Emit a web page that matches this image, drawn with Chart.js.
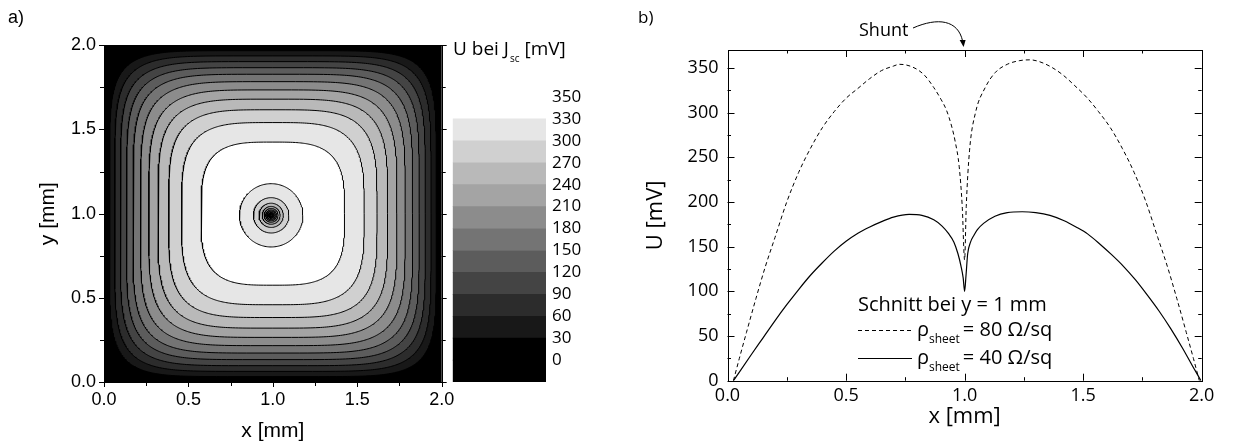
<!DOCTYPE html>
<html>
<head>
<meta charset="utf-8">
<script src="https://cdn.jsdelivr.net/npm/chart.js@4.4.1/dist/chart.umd.min.js"></script>
<style>
  html, body { margin: 0; padding: 0; background: #fff; }
  #page { position: relative; width: 1233px; height: 446px; overflow: hidden; }
  #page canvas { position: absolute; top: 0; }
  #mapChart { left: 0; }
  #barChart { left: 440px; }
  #cutChart { left: 620px; }
</style>
</head>
<body>
<div id="page">
  <canvas id="mapChart" width="470" height="446"></canvas>
  <canvas id="barChart" width="180" height="446"></canvas>
  <canvas id="cutChart" width="613" height="446"></canvas>
</div>
<script>
// a) voltage map at short circuit, one contour every 30 mV
const contourLevels = [30, 60, 90, 120, 150, 180, 210, 240, 270, 300, 330];
// half width of each contour on the line y = 1 mm, and how square it is
const contourHalfWidth = [0.968, 0.937, 0.903, 0.867, 0.828, 0.784, 0.735, 0.680, 0.617, 0.541, 0.425];
const contourSquareness = [6.5, 6.0, 5.6, 5.3, 5.0, 4.7, 4.4, 4.2, 4.0, 3.7, 3.4];
const cellCenter = [1.0, 1.0];

// dip of the voltage around the shunt
const shuntLevels = [330, 300, 270, 240, 210, 180, 150, 120, 90, 60];
const shuntRadius = [0.188, 0.105, 0.072, 0.053, 0.041, 0.032, 0.025, 0.019, 0.014, 0.009];
const shuntCenter = [0.99, 0.99];

// colour scale
const scaleLevels = [0, 30, 60, 90, 120, 150, 180, 210, 240, 270, 300, 330, 350];

// b) cut through the map at y = 1 mm
const cutX80 = [0.025, 0.05, 0.08, 0.12, 0.16, 0.2, 0.25, 0.3, 0.35, 0.4, 0.45, 0.5, 0.55, 0.6, 0.65, 0.7, 0.725,
  0.78, 0.83, 0.87, 0.9, 0.923, 0.945, 0.96, 0.977, 0.99, 1.0, 1.007, 1.021, 1.046, 1.087, 1.13, 1.18, 1.23,
  1.276, 1.315, 1.365, 1.415, 1.465, 1.515, 1.565, 1.615, 1.665, 1.715, 1.765, 1.815, 1.855, 1.895, 1.935,
  1.965, 1.99];
const cutU80 = [0, 25, 54, 92, 128, 160, 200, 233, 260, 283, 301, 316, 327, 338, 347, 352, 354,
  351, 342, 328, 315, 303, 285, 268, 240, 195, 135, 195, 258, 300, 328, 345, 354, 358,
  359, 357, 351, 342, 330, 317, 301, 283, 260, 233, 200, 160, 128, 92, 54,
  25, 0];
const cutX40 = [0.025, 0.1, 0.15, 0.2, 0.25, 0.3, 0.35, 0.4, 0.45, 0.5, 0.55, 0.6, 0.65, 0.7, 0.766,
  0.82, 0.87, 0.905, 0.931, 0.955, 0.972, 0.985, 0.994, 1.0, 1.006, 1.013, 1.025, 1.04, 1.054, 1.08,
  1.128, 1.18, 1.243, 1.3, 1.36, 1.42, 1.47, 1.52, 1.57, 1.62, 1.67, 1.72, 1.77, 1.82, 1.87, 1.92,
  1.96, 1.997];
const cutU40 = [0, 29, 48, 67, 85, 102, 118, 132, 145, 156, 165, 172, 178, 183, 186,
  185, 180, 173, 165, 155, 142, 128, 115, 100, 118, 142, 155, 163, 169, 176,
  184, 188, 189, 188, 185, 179, 172, 164, 153, 141, 128, 113, 96, 78, 58, 36,
  17, 0];

const shuntX = 1.0;

// grey for the band between scaleLevels[i] and scaleLevels[i + 1]
const bandGrey = ['#000000', '#181818', '#2c2c2c', '#444444', '#5c5c5c', '#747474',
  '#8c8c8c', '#a4a4a4', '#b9b9b9', '#d0d0d0', '#e6e6e6', '#ffffff'];

const ARIAL = '"Liberation Sans", Arial, sans-serif';
const SANS = '"Open Sans", "Noto Sans", sans-serif';

function bandColor(level) {
  const i = scaleLevels.indexOf(level);
  return bandGrey[Math.max(0, Math.min(bandGrey.length - 1, i))];
}

// closed superellipse around (cx, cy)
function loopPoints(cx, cy, half, power, count) {
  const pts = [];
  for (let i = 0; i <= count; i++) {
    const t = (i / count) * 2 * Math.PI;
    const c = Math.cos(t);
    const s = Math.sin(t);
    pts.push({
      x: cx + half * Math.sign(c) * Math.pow(Math.abs(c), 2 / power),
      y: cy + half * Math.sign(s) * Math.pow(Math.abs(s), 2 / power)
    });
  }
  return pts;
}

function isMajor(value, step) {
  const r = value / step;
  return Math.abs(r - Math.round(r)) < 1e-6;
}

// frame plus tick marks on the chosen sides
function framePlugin(opts) {
  return {
    id: 'frame',
    afterDatasetsDraw(chart) {
      const {ctx, chartArea: a, scales} = chart;
      const dir = opts.inward ? 1 : -1;
      ctx.save();
      ctx.strokeStyle = '#000';
      ctx.lineWidth = 1;
      ctx.strokeRect(Math.round(a.left) + 0.5, Math.round(a.top) + 0.5,
        Math.round(a.right - a.left), Math.round(a.bottom - a.top));
      ctx.beginPath();
      scales.x.ticks.forEach(t => {
        const len = isMajor(t.value, opts.xMajor) ? opts.major : opts.minor;
        const px = Math.round(scales.x.getPixelForValue(t.value)) + 0.5;
        if (opts.sides.includes('bottom')) {
          ctx.moveTo(px, a.bottom);
          ctx.lineTo(px, a.bottom - dir * len);
        }
        if (opts.sides.includes('top')) {
          ctx.moveTo(px, a.top);
          ctx.lineTo(px, a.top + dir * len);
        }
      });
      scales.y.ticks.forEach(t => {
        const len = isMajor(t.value, opts.yMajor) ? opts.major : opts.minor;
        const py = Math.round(scales.y.getPixelForValue(t.value)) + 0.5;
        if (opts.sides.includes('left')) {
          ctx.moveTo(a.left, py);
          ctx.lineTo(a.left + dir * len, py);
        }
        if (opts.sides.includes('right')) {
          ctx.moveTo(a.right, py);
          ctx.lineTo(a.right - dir * len, py);
        }
      });
      ctx.stroke();
      ctx.restore();
    }
  };
}

function fixSize(size) {
  return scale => {
    if (scale.isHorizontal()) {
      scale.height = size;
    } else {
      scale.width = size;
    }
    scale.paddingLeft = 0;
    scale.paddingRight = 0;
    scale.paddingTop = 0;
    scale.paddingBottom = 0;
  };
}

function oneDecimal(step) {
  return value => (isMajor(value, step) ? value.toFixed(1) : '');
}

// ---------- a) map ----------
const mapDatasets = [];
contourLevels.forEach((level, k) => {
  mapDatasets.push({
    data: loopPoints(cellCenter[0], cellCenter[1], contourHalfWidth[k], contourSquareness[k], 400),
    backgroundColor: bandColor(level),
    borderColor: '#000',
    borderWidth: 1,
    fill: 'shape',
    order: 100 - k
  });
});
shuntLevels.forEach((level, k) => {
  mapDatasets.push({
    data: loopPoints(shuntCenter[0], shuntCenter[1], shuntRadius[k], k > 6 ? 1.4 : 2, 160),
    backgroundColor: bandColor(level - 30),
    borderColor: '#000',
    borderWidth: 1,
    fill: 'shape',
    order: 50 - k
  });
});

const mapBackground = {
  id: 'mapBackground',
  beforeDatasetsDraw(chart) {
    const {ctx, chartArea: a} = chart;
    ctx.save();
    ctx.fillStyle = bandGrey[0];
    ctx.fillRect(a.left, a.top, a.right - a.left, a.bottom - a.top);
    ctx.restore();
  },
  afterDraw(chart) {
    const ctx = chart.ctx;
    ctx.save();
    ctx.fillStyle = '#000';
    ctx.font = '18px ' + ARIAL;
    ctx.textBaseline = 'middle';
    ctx.fillText('a)', 8, 18);
    ctx.restore();
  }
};

new Chart(document.getElementById('mapChart'), {
  type: 'scatter',
  data: {datasets: mapDatasets},
  options: {
    responsive: false,
    animation: false,
    events: [],
    layout: {padding: {left: 0, top: 45.3, right: 28.3, bottom: 0}},
    plugins: {legend: {display: false}, tooltip: {enabled: false}},
    elements: {point: {radius: 0}, line: {tension: 0}},
    datasets: {scatter: {showLine: true}},
    scales: {
      x: {
        type: 'linear', min: 0, max: 2,
        afterFit: fixSize(64),
        grid: {display: false, drawTicks: false},
        border: {display: false},
        ticks: {stepSize: 0.25, autoSkip: false, maxRotation: 0, padding: 7, color: '#000',
          font: {family: ARIAL, size: 18}, callback: oneDecimal(0.5)},
        title: {display: true, text: 'x [mm]', color: '#000', font: {family: ARIAL, size: 21},
          padding: {top: 0, bottom: 2}}
      },
      y: {
        type: 'linear', min: 0, max: 2,
        afterFit: fixSize(104),
        grid: {display: false, drawTicks: false},
        border: {display: false},
        ticks: {stepSize: 0.25, autoSkip: false, padding: 8, color: '#000',
          font: {family: ARIAL, size: 18}, callback: oneDecimal(0.5)},
        title: {display: true, text: 'y [mm]', color: '#000', font: {family: ARIAL, size: 21},
          padding: {top: 36, bottom: 0}}
      }
    }
  },
  plugins: [mapBackground, framePlugin({inward: false, sides: ['left', 'bottom', 'right'],
    major: 5, minor: 4, xMajor: 0.5, yMajor: 0.5})]
});

// ---------- colour scale ----------
// one stacked block per band, the lowest block sits below 0 mV
const barBands = [bandGrey[0]].concat(bandGrey);
const barTitle = {
  id: 'barTitle',
  afterDraw(chart) {
    const ctx = chart.ctx;
    ctx.save();
    ctx.fillStyle = '#000';
    ctx.textBaseline = 'middle';
    ctx.font = '19px ' + SANS;
    let x = 13;
    ctx.fillText('U bei J', x, 50);
    x += ctx.measureText('U bei J').width + 1;
    ctx.font = '10px ' + SANS;
    ctx.fillText('sc', x, 59);
    x += ctx.measureText('sc').width + 5;
    ctx.font = '19px ' + SANS;
    ctx.fillText('[mV]', x, 50);
    ctx.restore();
  }
};

new Chart(document.getElementById('barChart'), {
  type: 'bar',
  data: {
    labels: [''],
    datasets: barBands.map(c => ({
      data: [1],
      backgroundColor: c,
      borderWidth: 0,
      barPercentage: 1,
      categoryPercentage: 1
    }))
  },
  options: {
    responsive: false,
    animation: false,
    events: [],
    layout: {padding: {left: 12.7, top: 97, right: 0, bottom: 64}},
    plugins: {legend: {display: false}, tooltip: {enabled: false}},
    scales: {
      x: {display: false, stacked: true},
      y: {
        stacked: true,
        position: 'right',
        min: 0, max: barBands.length,
        afterFit: fixSize(180 - 12.7 - 93.3),
        grid: {display: false, drawTicks: false},
        border: {display: false},
        ticks: {stepSize: 1, autoSkip: false, padding: 6, color: '#000',
          font: {family: SANS, size: 17},
          callback: v => (v >= 1 && v <= scaleLevels.length ? String(scaleLevels[v - 1]) : '')}
      }
    }
  },
  plugins: [barTitle]
});

// ---------- b) cut at y = 1 mm ----------
function toPoints(xs, ys) {
  return xs.map((x, i) => ({x, y: ys[i]}));
}

const cutLegend = {
  id: 'cutLegend',
  afterDraw(chart) {
    const ctx = chart.ctx;
    const xs = chart.scales.x;
    ctx.save();
    ctx.fillStyle = '#000';
    ctx.strokeStyle = '#000';
    ctx.textBaseline = 'middle';
    ctx.font = '17px ' + SANS;
    ctx.fillText('b)', 18, 18);

    // legend block
    ctx.font = '20px ' + SANS;
    ctx.fillText('Schnitt bei y = 1 mm', 238, 305);
    const rows = [{y: 330, dash: [4, 3], text: '= 80 Ω/sq'}, {y: 358, dash: [], text: '= 40 Ω/sq'}];
    rows.forEach(r => {
      ctx.beginPath();
      ctx.lineWidth = 1;
      ctx.setLineDash(r.dash);
      ctx.moveTo(238, r.y + 0.5);
      ctx.lineTo(292, r.y + 0.5);
      ctx.stroke();
      ctx.setLineDash([]);
      ctx.font = '20px ' + SANS;
      ctx.fillText('ρ', 297, r.y);
      const w = ctx.measureText('ρ').width;
      ctx.font = '12px ' + SANS;
      ctx.fillText('sheet', 297 + w, r.y + 10);
      const ws = ctx.measureText('sheet').width;
      ctx.font = '20px ' + SANS;
      ctx.fillText(r.text, 297 + w + ws + 3, r.y);
    });

    // shunt marker above the plot
    ctx.font = '18px ' + SANS;
    ctx.fillText('Shunt', 239, 31);
    const tipX = xs.getPixelForValue(shuntX) - 1;
    const tipY = chart.chartArea.top - 3;
    ctx.beginPath();
    ctx.lineWidth = 1;
    ctx.moveTo(293, 28);
    ctx.bezierCurveTo(318, 17, 338, 20, tipX - 1, tipY - 6);
    ctx.stroke();
    ctx.beginPath();
    ctx.moveTo(tipX, tipY);
    ctx.lineTo(tipX - 4, tipY - 7);
    ctx.lineTo(tipX + 2, tipY - 7);
    ctx.closePath();
    ctx.fill();
    ctx.restore();
  }
};

new Chart(document.getElementById('cutChart'), {
  type: 'scatter',
  data: {
    datasets: [
      {data: toPoints(cutX80, cutU80), borderColor: '#000', borderWidth: 1, borderDash: [4, 3]},
      {data: toPoints(cutX40, cutU40), borderColor: '#000', borderWidth: 1.2}
    ]
  },
  options: {
    responsive: false,
    animation: false,
    events: [],
    layout: {padding: {left: 0, top: 50, right: 31.3, bottom: 0}},
    plugins: {legend: {display: false}, tooltip: {enabled: false}},
    elements: {point: {radius: 0}, line: {cubicInterpolationMode: 'monotone'}},
    datasets: {scatter: {showLine: true}},
    scales: {
      x: {
        type: 'linear', min: 0, max: 2,
        afterFit: fixSize(65.3),
        grid: {display: false, drawTicks: false},
        border: {display: false},
        ticks: {stepSize: 0.25, autoSkip: false, maxRotation: 0, padding: 4.5, color: '#000',
          font: {family: SANS, size: 18}, callback: oneDecimal(0.5)},
        title: {display: true, text: 'x [mm]', color: '#000', font: {family: SANS, size: 22},
          padding: {top: 0, bottom: 16}}
      },
      y: {
        type: 'linear', min: 0, max: 370,
        afterFit: fixSize(107.5),
        grid: {display: false, drawTicks: false},
        border: {display: false},
        ticks: {stepSize: 25, autoSkip: false, includeBounds: false, padding: 9, color: '#000',
          font: {family: SANS, size: 18}, callback: v => (isMajor(v, 50) ? String(v) : '')},
        title: {display: true, text: 'U [mV]', color: '#000', font: {family: SANS, size: 22},
          padding: {top: 23, bottom: 0}}
      }
    }
  },
  plugins: [cutLegend, framePlugin({inward: true, sides: ['left', 'bottom', 'right', 'top'],
    major: 7, minor: 3.5, xMajor: 0.5, yMajor: 50})]
});
</script>
</body>
</html>
